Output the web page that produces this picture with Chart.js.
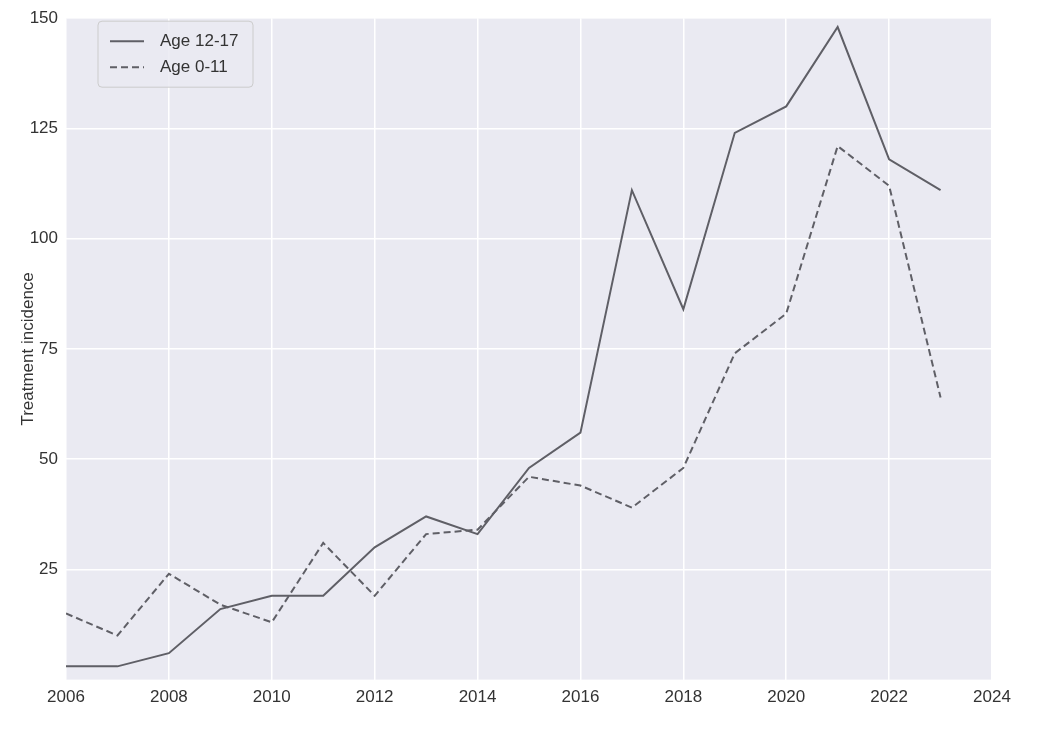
<!DOCTYPE html>
<html><head><meta charset="utf-8">
<script src="https://cdn.jsdelivr.net/npm/chart.js@4"></script>
<style>html,body{margin:0;padding:0;background:#fff}#w{width:1050px;height:740px}</style>
</head><body><div id="w"><canvas id="c"></canvas></div>
<script>
const years = [2006,2007,2008,2009,2010,2011,2012,2013,2014,2015,2016,2017,2018,2019,2020,2021,2022,2023];
const age1217 = [3,3,6,16,19,19,30,37,33,48,56,111,84,124,130,148,118,111];
const age011 = [15,10,24,17,13,31,19,33,34,46,44,39,48,74,83,121,112,64];
const xTicks = [2006,2008,2010,2012,2014,2016,2018,2020,2022,2024];
const yTicks = [25,50,75,100,125,150];
const col = '#5f5f66';
const font = {family:'"Liberation Sans", Arial, sans-serif', size:17};

const bg = {id:'bg', beforeDraw(ch){const a=ch.chartArea,x=ch.ctx;x.save();x.fillStyle='#EAEAF2';x.fillRect(a.left,a.top,a.right-a.left,a.bottom-a.top);x.restore();}};
const leg = {id:'leg', afterDraw(ch){const a=ch.chartArea,x=ch.ctx;x.save();
  const L=a.left+32,T=a.top+3,W=155,H=66;
  x.fillStyle='rgba(234,234,242,0.85)';x.strokeStyle='#cccccc';x.lineWidth=1;
  x.beginPath();x.roundRect(L,T,W,H,4);x.fill();x.stroke();
  ch.data.datasets.forEach((d,i)=>{const y=T+20+i*26;
    x.strokeStyle=d.borderColor;x.lineWidth=2;x.setLineDash(d.borderDash||[]);
    x.beginPath();x.moveTo(L+12,y);x.lineTo(L+46,y);x.stroke();x.setLineDash([]);
    x.fillStyle='#333';x.font='17px "Liberation Sans", Arial, sans-serif';x.textBaseline='middle';
    x.fillText(d.label,L+62,y);});
  x.restore();}};

new Chart(document.getElementById('c'),{
  type:'line',
  data:{datasets:[
    {label:'Age 12-17',data:years.map((y,i)=>({x:y,y:age1217[i]})),borderColor:col,borderWidth:2,pointRadius:0,tension:0},
    {label:'Age 0-11',data:years.map((y,i)=>({x:y,y:age011[i]})),borderColor:col,borderWidth:2,borderDash:[7,4],pointRadius:0,tension:0}
  ]},
  options:{responsive:true,maintainAspectRatio:false,animation:false,
    layout:{padding:{left:16,right:58,top:18,bottom:24}},
    plugins:{legend:{display:false},tooltip:{enabled:false}},
    scales:{
      x:{type:'linear',min:2006,max:2024,
        afterBuildTicks(s){s.ticks=xTicks.map(v=>({value:v}));},
        ticks:{color:'#333',font,padding:8,callback:v=>String(v),maxRotation:0},
        grid:{color:'#ffffff',lineWidth:1.5,drawTicks:false},border:{display:false}},
      y:{min:0,max:150,
        afterBuildTicks(s){s.ticks=yTicks.map(v=>({value:v}));},
        afterFit(s){s.width=50;},
        ticks:{color:'#333',font,padding:8},
        title:{display:true,text:'Treatment incidence',color:'#333',font,padding:2},
        grid:{color:'#ffffff',lineWidth:1.5,drawTicks:false},border:{display:false}}
    }},
  plugins:[bg,leg]
});
</script></body></html>
